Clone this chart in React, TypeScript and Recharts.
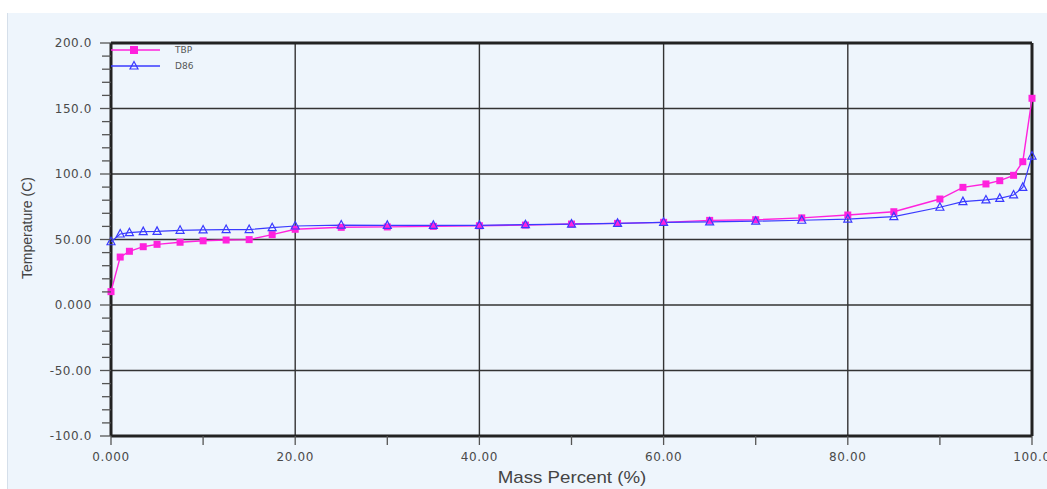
import React from 'react';
import { LineChart, Line, XAxis, YAxis, ReferenceLine } from 'recharts';

// --- data ---
const massPercent = [0, 1, 2, 3.5, 5, 7.5, 10, 12.5, 15, 17.5, 20, 25, 30, 35, 40, 45, 50, 55, 60, 65, 70, 75, 80, 85, 90, 92.5, 95, 96.5, 98, 99, 100];
const tbpTemp = [10.2, 36.6, 41, 44.5, 46.3, 47.9, 49, 49.6, 49.9, 53.7, 57.8, 59.3, 59.6, 60, 60.5, 61, 61.8, 62.3, 63.1, 64.6, 65.1, 66.5, 68.7, 71.2, 80.9, 89.8, 92.4, 94.9, 99, 109.4, 157.8];
const d86Temp = [48.3, 54.2, 55.2, 56, 56.2, 57, 57.3, 57.6, 57.6, 59, 60.3, 61, 60.8, 60.8, 60.8, 61.3, 61.8, 62.3, 63.1, 63.4, 64, 64.7, 65.6, 67.4, 74.6, 78.9, 80.2, 81.4, 84, 89.8, 113.7];

const xMajor = [0, 20, 40, 60, 80, 100];
const xTicks = [0, 10, 20, 30, 40, 50, 60, 70, 80, 90, 100];
const yMajor = [-100, -50, 0, 50, 100, 150, 200];
const yTicks = [-100, -90, -80, -70, -60, -50, -40, -30, -20, -10, 0, 10, 20, 30, 40, 50, 60, 70, 80, 90, 100, 110, 120, 130, 140, 150, 160, 170, 180, 190, 200];

const chartData = massPercent.map((x, i) => ({ x, TBP: tbpTemp[i], D86: d86Temp[i] }));

const TBP_COLOR = '#ff22dd';
const D86_COLOR = '#3a3aff';
const AXIS_COLOR = '#333';
const fmt = (v: number) => v.toPrecision(4);

const tickFont = { fontFamily: 'DejaVu Sans', fontSize: 12, fill: '#4a4a4a', letterSpacing: 0.6 };
const titleFont: React.CSSProperties = { fontFamily: 'Liberation Sans', color: '#444', whiteSpace: 'nowrap', position: 'absolute' };

const YTick = (props: any) => {
    const { x, y, payload } = props;
    const major = yMajor.includes(payload.value);
    return (
        <g>
            <line x1={x - (major ? 11 : 9)} y1={y} x2={x} y2={y} stroke="#555" strokeWidth={1.3} />
            {major && (
                <text x={x - 19} y={y} dy={4} textAnchor="end" {...tickFont}>{fmt(payload.value)}</text>
            )}
        </g>
    );
};

const XTick = (props: any) => {
    const { x, y, payload } = props;
    const major = xMajor.includes(payload.value);
    return (
        <g>
            <line x1={x} y1={y} x2={x} y2={y + 9} stroke="#555" strokeWidth={1.3} />
            {major && (
                <text x={x} y={y + 25} textAnchor="middle" {...tickFont}>{fmt(payload.value)}</text>
            )}
        </g>
    );
};

// small legend in the top-left corner of the plot
const LegendBox = () => {
    const row = (name: string, color: string, square: boolean) => (
        <div key={name} style={{ display: 'flex', alignItems: 'center', height: 16 }}>
            <svg width={64} height={16}>
                <line x1={0} y1={8} x2={49} y2={8} stroke={color} strokeWidth={1.3} />
                {square ? (
                    <rect x={19} y={4} width={8} height={8} fill={color} />
                ) : (
                    <polygon points="23,3.5 27,11 19,11" fill="none" stroke={color} strokeWidth={1.2} />
                )}
            </svg>
            <span style={{ fontFamily: 'DejaVu Sans', fontSize: 9, color: '#555' }}>{name}</span>
        </div>
    );
    return (
        <div style={{ position: 'absolute', left: 111, top: 42 }}>
            {row('TBP', TBP_COLOR, true)}
            {row('D86', D86_COLOR, false)}
        </div>
    );
};

const SquareDot = (props: any) => {
    const { cx, cy } = props;
    if (cx == null || cy == null) return null;
    return <rect x={cx - 3.5} y={cy - 3.5} width={7} height={7} fill={TBP_COLOR} />;
};

const TriangleDot = (props: any) => {
    const { cx, cy } = props;
    if (cx == null || cy == null) return null;
    return (
        <polygon
            points={`${cx},${cy - 4.5} ${cx + 4},${cy + 3} ${cx - 4},${cy + 3}`}
            fill="none"
            stroke={D86_COLOR}
            strokeWidth={1.2}
        />
    );
};

export default function App() {
    return (
        <div style={{ position: 'fixed', left: 0, top: 0, width: 1047, height: 489, background: '#fff', overflow: 'hidden' }}>
            <div style={{ position: 'absolute', left: 7, top: 13, right: 0, bottom: 0, background: '#eef5fc', borderLeft: '1px solid #d5dfea' }} />
            <div style={{ position: 'absolute', left: 0, top: 0 }}>
                <LineChart width={1047} height={489} data={chartData} margin={{ top: 43, right: 15, bottom: 0, left: 0 }}>
                    <XAxis
                        dataKey="x"
                        type="number"
                        domain={[0, 100]}
                        ticks={xTicks}
                        interval={0}
                        height={53}
                        tickSize={0}
                        tickMargin={0}
                        tickLine={false}
                        axisLine={false}
                        tick={<XTick />}
                    />
                    <YAxis
                        type="number"
                        domain={[-100, 200]}
                        ticks={yTicks}
                        interval={0}
                        width={111}
                        tickSize={0}
                        tickMargin={0}
                        tickLine={false}
                        axisLine={false}
                        tick={<YTick />}
                    />
                    {/* inner grid at the major ticks */}
                    {yMajor.slice(1, -1).map(v => (
                        <ReferenceLine key={'gy' + v} y={v} stroke={AXIS_COLOR} strokeWidth={1.4} />
                    ))}
                    {xMajor.slice(1, -1).map(v => (
                        <ReferenceLine key={'gx' + v} x={v} stroke={AXIS_COLOR} strokeWidth={1.4} />
                    ))}
                    {/* heavy frame */}
                    <ReferenceLine y={200} stroke="#222" strokeWidth={3} />
                    <ReferenceLine y={-100} stroke="#222" strokeWidth={3} />
                    <ReferenceLine x={0} stroke="#222" strokeWidth={3} />
                    <ReferenceLine x={100} stroke="#222" strokeWidth={3} />
                    <Line dataKey="TBP" stroke={TBP_COLOR} strokeWidth={1.4} dot={<SquareDot />} isAnimationActive={false} />
                    <Line dataKey="D86" stroke={D86_COLOR} strokeWidth={1.2} dot={<TriangleDot />} isAnimationActive={false} />
                </LineChart>
            </div>
            <LegendBox />
            {/* axis titles */}
            <div style={{ ...titleFont, fontSize: 17, left: 572, top: 468, transform: 'translateX(-50%) scaleX(1.1)' }}>Mass Percent (%)</div>
            <div style={{ ...titleFont, fontSize: 14, left: 27, top: 228, transform: 'translate(-50%, -50%) rotate(-90deg)' }}>Temperature (C)</div>
        </div>
    );
}
